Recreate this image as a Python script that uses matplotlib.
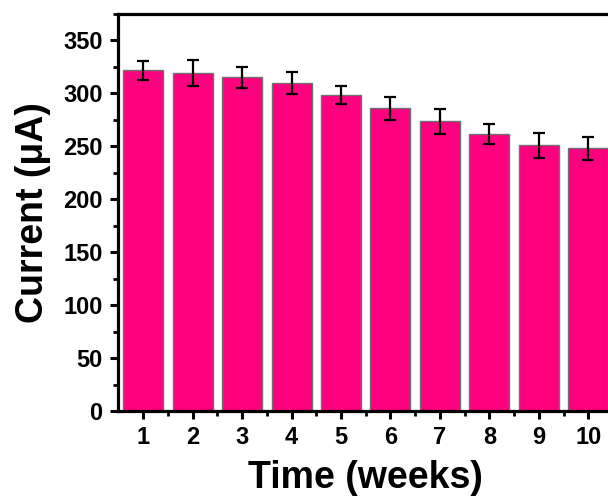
import matplotlib
matplotlib.use("Agg")
import matplotlib.pyplot as plt
from matplotlib.ticker import MultipleLocator, FixedLocator

weeks = [1, 2, 3, 4, 5, 6, 7, 8, 9, 10]
current = [322, 319, 315, 310, 298.5, 286, 273.5, 261.5, 251, 248]
errors = [9, 12.5, 10, 10.5, 8.5, 11, 11.5, 9.5, 12, 11]
yticks = [0, 50, 100, 150, 200, 250, 300, 350]

plt.rcParams['font.family'] = ['Liberation Sans', 'DejaVu Sans']
plt.rcParams['font.weight'] = 'bold'

fig = plt.figure(figsize=(6.08, 4.97), dpi=100)
ax = fig.add_axes([0.194, 0.173, 0.815, 0.799])

ax.bar(weeks, current, width=0.81, color='#FF007F', edgecolor='#707070', linewidth=1.0,
       yerr=errors, error_kw=dict(ecolor='black', elinewidth=1.6, capsize=4.5, capthick=1.6),
       zorder=2)

ax.set_xlim(0.49, 10.51)
ax.set_ylim(0, 375)
ax.set_xticks(weeks)
ax.set_yticks(yticks)
ax.xaxis.set_minor_locator(FixedLocator([x + 0.5 for x in weeks]))
ax.yaxis.set_minor_locator(MultipleLocator(25))

for s in ax.spines.values():
    s.set_linewidth(2.3)

ax.tick_params(axis='both', which='major', direction='out', length=6, width=2.2,
               labelsize=17, pad=5)
ax.tick_params(axis='both', which='minor', direction='out', length=3.5, width=2.0)
for lab in ax.get_xticklabels() + ax.get_yticklabels():
    lab.set_fontweight('bold')

ax.set_xlabel('Time (weeks)', fontsize=27, fontweight='bold', labelpad=8)
ax.set_ylabel('Current (μA)', fontsize=27, fontweight='bold', labelpad=9)

fig.savefig('out.png', dpi=100)
